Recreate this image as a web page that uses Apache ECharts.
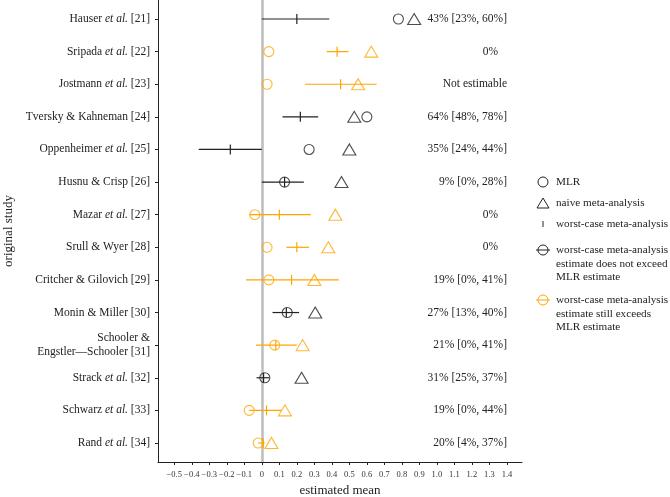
<!DOCTYPE html>
<html>
<head>
<meta charset="utf-8">
<script src="https://cdn.jsdelivr.net/npm/echarts@6/dist/echarts.min.js"></script>
<style>html,body{margin:0;padding:0;background:#fff;}#c{width:670px;height:497px;}</style>
</head>
<body>
<div id="c"></div>
<script>
var studies = ["Hauser et al. [21]", "Sripada et al. [22]", "Jostmann et al. [23]", "Tversky & Kahneman [24]",
  "Oppenheimer et al. [25]", "Husnu & Crisp [26]", "Mazar et al. [27]", "Srull & Wyer [28]",
  "Critcher & Gilovich [29]", "Monin & Miller [30]", "Schooler &\nEngstler\u2014Schooler [31]",
  "Strack et al. [32]", "Schwarz et al. [33]", "Rand et al. [34]"];
var mlr =      [0.78, 0.04, 0.03, 0.60, 0.27, 0.13, -0.04, 0.03, 0.04, 0.145, 0.074, 0.017, -0.072, -0.021];
var naive =    [0.87, 0.625, 0.55, 0.528, 0.50, 0.455, 0.42, 0.38, 0.30, 0.305, 0.233, 0.227, 0.132, 0.055];
var worstEst = [0.20, 0.43, 0.45, 0.22, -0.18, 0.13, 0.10, 0.20, 0.17, 0.14, 0.08, 0.01, 0.027, 0.008];
var worstLo =  [0.0, 0.37, 0.246, 0.118, -0.36, 0.0, -0.07, 0.14, -0.09, 0.061, -0.034, -0.03, -0.072, -0.021];
var worstHi =  [0.385, 0.495, 0.656, 0.322, 0.0, 0.24, 0.28, 0.27, 0.44, 0.213, 0.20, 0.042, 0.113, 0.017];
var stillExceeds = [false, true, true, false, false, false, true, true, true, false, true, false, true, true];
var percentText = ["43% [23%, 60%]", "0%", "Not estimable", "64% [48%, 78%]", "35% [24%, 44%]", "9% [0%, 28%]",
  "0%", "0%", "19% [0%, 41%]", "27% [13%, 40%]", "21% [0%, 41%]", "31% [25%, 37%]", "19% [0%, 44%]", "20% [4%, 37%]"];
var xTicks = [-0.5, -0.4, -0.3, -0.2, -0.1, 0, 0.1, 0.2, 0.3, 0.4, 0.5, 0.6, 0.7, 0.8, 0.9, 1.0, 1.1, 1.2, 1.3, 1.4];

var BLACK = '#222222';
var ORANGE = '#FFA500';
var SERIF = '"Liberation Serif", "DejaVu Serif", serif';
var FS = 11.5;
var idx = studies.map(function (s, i) { return i; });
function colorOf(i) { return stillExceeds[i] ? ORANGE : BLACK; }

var chart = echarts.init(document.getElementById('c'), null, { renderer: 'canvas' });

var legendX = 543, textX = 556;
var LF = '11.2px ' + SERIF;
var graphics = [
  { type: 'circle', shape: { cx: legendX, cy: 182, r: 5 }, style: { fill: 'none', stroke: BLACK, lineWidth: 1 } },
  { type: 'text', style: { x: textX, y: 182, text: 'MLR', font: LF, fill: BLACK, verticalAlign: 'middle' } },
  { type: 'polygon', shape: { points: [[legendX - 6, 208], [legendX + 6, 208], [legendX, 198]] }, style: { fill: 'none', stroke: BLACK, lineWidth: 1 } },
  { type: 'text', style: { x: textX, y: 203, text: 'naive meta-analysis', font: LF, fill: BLACK, verticalAlign: 'middle' } },
  { type: 'line', shape: { x1: legendX, y1: 221, x2: legendX, y2: 227 }, style: { stroke: BLACK, lineWidth: 1 } },
  { type: 'text', style: { x: textX, y: 224, text: 'worst-case meta-analysis', font: LF, fill: BLACK, verticalAlign: 'middle' } },
  { type: 'circle', shape: { cx: legendX, cy: 250, r: 5 }, style: { fill: 'none', stroke: BLACK, lineWidth: 1 } },
  { type: 'line', shape: { x1: legendX - 7, y1: 250, x2: legendX + 7, y2: 250 }, style: { stroke: BLACK, lineWidth: 1 } },
  { type: 'text', style: { x: textX, y: 243.5, text: 'worst-case meta-analysis\nestimate does not exceed\nMLR estimate', font: LF, lineHeight: 13.4, fill: BLACK, verticalAlign: 'top' } },
  { type: 'circle', shape: { cx: legendX, cy: 300, r: 5 }, style: { fill: 'none', stroke: ORANGE, lineWidth: 1 } },
  { type: 'line', shape: { x1: legendX - 7, y1: 300, x2: legendX + 7, y2: 300 }, style: { stroke: ORANGE, lineWidth: 1 } },
  { type: 'text', style: { x: textX, y: 293.5, text: 'worst-case meta-analysis\nestimate still exceeds\nMLR estimate', font: LF, lineHeight: 13.4, fill: BLACK, verticalAlign: 'top' } }
];

var option = {
  animation: false,
  backgroundColor: '#fff',
  grid: { left: 158, right: 148, top: 0, bottom: 35, containLabel: false, outerBoundsMode: 'none' },
  xAxis: {
    type: 'value', min: -0.593, max: 1.486,
    name: 'estimated mean', nameLocation: 'middle', nameGap: 21,
    nameTextStyle: { fontFamily: SERIF, fontSize: 13, color: BLACK },
    axisLine: { show: true, onZero: false, lineStyle: { color: BLACK, width: 1 } },
    axisTick: { show: true, inside: false, length: 3, customValues: xTicks, lineStyle: { color: BLACK } },
    axisLabel: {
      customValues: xTicks, margin: 8, fontFamily: SERIF, fontSize: 8.5, color: '#333',
      formatter: function (v) {
        if (Math.abs(v) < 1e-9) return '0';
        return (v < 0 ? '\u2212' : '') + Math.abs(v).toFixed(1);
      }
    },
    splitLine: { show: false }
  },
  yAxis: [{
    type: 'value', inverse: true, min: -0.583, max: 13.583, position: 'left',
    name: 'original study', nameLocation: 'middle', nameGap: 143, nameRotate: 90,
    nameTextStyle: { fontFamily: SERIF, fontSize: 13, color: BLACK },
    axisLine: { show: true, onZero: false, lineStyle: { color: BLACK, width: 1 } },
    axisTick: { show: true, length: 3, customValues: idx, lineStyle: { color: BLACK } },
    axisLabel: {
      customValues: idx, margin: 8, fontFamily: SERIF, fontSize: FS, color: BLACK, lineHeight: 14, align: 'right',
      formatter: function (v) {
        var s = studies[Math.round(v)];
        return s.replace('et al.', '{i|et al.}');
      },
      rich: { i: { fontStyle: 'italic', fontFamily: SERIF, fontSize: FS, color: BLACK } }
    },
    splitLine: { show: false }
  }, {
    type: 'value', inverse: true, min: -0.583, max: 13.583, position: 'right',
    axisLine: { show: false, onZero: false }, axisTick: { show: false },
    axisLabel: {
      customValues: idx, inside: true, margin: 15, fontFamily: SERIF, fontSize: FS, color: BLACK,
      formatter: function (v) {
        var t = percentText[Math.round(v)];
        return t.indexOf('[') < 0 && t.indexOf(' ') < 0 ? '{p|' + t + '}' : t;
      },
      rich: { p: { padding: [0, 9, 0, 0], fontFamily: SERIF, fontSize: FS, color: BLACK } }
    },
    splitLine: { show: false }
  }],
  graphic: graphics,
  series: [
    {
      name: 'worst-case meta-analysis', type: 'custom', z: 3,
      data: idx.map(function (i) { return [worstLo[i], worstHi[i], worstEst[i], i]; }),
      encode: { x: [0, 1, 2], y: 3 },
      renderItem: function (params, api) {
        var i = api.value(3);
        var p0 = api.coord([api.value(0), i]);
        var p1 = api.coord([api.value(1), i]);
        var pe = api.coord([api.value(2), i]);
        var c = colorOf(i);
        return {
          type: 'group', children: [
            { type: 'line', shape: { x1: p0[0], y1: p0[1], x2: p1[0], y2: p1[1] }, style: { stroke: c, lineWidth: 1.2 } },
            { type: 'line', shape: { x1: pe[0], y1: pe[1] - 5, x2: pe[0], y2: pe[1] + 5 }, style: { stroke: c, lineWidth: 1.2 } }
          ]
        };
      },
      markLine: {
        silent: true, symbol: 'none', label: { show: false }, z: 1,
        lineStyle: { color: '#bdbdbd', width: 2.5, type: 'solid' },
        data: [{ xAxis: 0 }]
      }
    },
    {
      name: 'MLR', type: 'scatter', symbol: 'circle', symbolSize: 10, z: 4,
      data: idx.map(function (i) {
        return { value: [mlr[i], i], itemStyle: { color: 'rgba(0,0,0,0)', borderColor: colorOf(i), borderWidth: 1.1 } };
      })
    },
    {
      name: 'naive meta-analysis', type: 'scatter', symbol: 'triangle', symbolSize: [13, 11], z: 4,
      data: idx.map(function (i) {
        return { value: [naive[i], i], itemStyle: { color: 'rgba(0,0,0,0)', borderColor: colorOf(i), borderWidth: 1.1 } };
      })
    }
  ]
};
chart.setOption(option);
</script>
</body>
</html>
